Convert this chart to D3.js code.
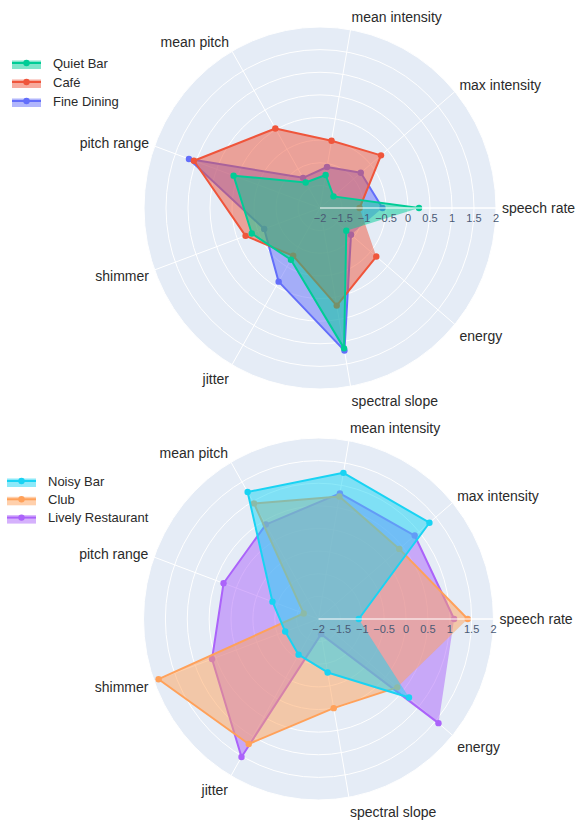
<!DOCTYPE html>
<html>
<head>
<meta charset="utf-8">
<script src="https://cdn.jsdelivr.net/npm/d3@7"></script>
<style>
  body { margin: 0; background: #fff; }
  svg { display: block; font-family: "Liberation Sans", Arial, sans-serif; }
</style>
</head>
<body>
<svg width="577" height="820"></svg>
<script>
// categories go counter-clockwise starting from the right
const categories = ["speech rate", "max intensity", "mean intensity", "mean pitch",
  "pitch range", "shimmer", "jitter", "spectral slope", "energy"];
const radialTicks = [-2, -1.5, -1, -0.5, 0, 0.5, 1, 1.5, 2];

// top chart
const quietBar   = [0.25, -1.6, -1.26, -1.35, 0.09, -0.35, -0.68, 1.15, -1.22];
const cafe       = [-1.1, -0.19, -0.49, 0.03, 1.05, -0.2, -0.78, 0.19, -0.33];
const fineDining = [-0.58, -0.79, -1.08, -1.23, 1.17, -0.65, -0.12, 1.2, -1.08];

// bottom chart
const noisyBar         = [-1.08, 1.31, 1.28, 1.24, -0.88, -1.19, -1.09, -0.8, 0.7];
const club             = [1.41, 0.41, 0.75, 0.95, -1.64, 1.89, 1.19, 0.0, 0.35];
const livelyRestaurant = [1.1, 0.87, 0.82, 0.41, 0.31, 0.59, 1.52, -1.66, 1.58];

const svg = d3.select("svg");

const angle = d3.scalePoint()
    .domain(categories)
    .range([0, 360 - 360 / categories.length]);
const radius = d3.scaleLinear().domain([-2, 2]).range([0, 1]);

function drawRadar(cx, cy, rx, ry, series, lx, ly, lstep) {
  const g = svg.append("g");
  const pt = (c, v) => {
    const a = angle(c) * Math.PI / 180;
    return [cx + Math.cos(a) * radius(v) * rx, cy - Math.sin(a) * radius(v) * ry];
  };

  // background + grid
  g.append("ellipse")
      .attr("cx", cx).attr("cy", cy).attr("rx", rx).attr("ry", ry)
      .attr("fill", "#E5ECF6");
  g.selectAll(".ring")
      .data(radialTicks.filter(t => t > -2))
      .join("ellipse")
      .attr("cx", cx).attr("cy", cy)
      .attr("rx", d => radius(d) * rx).attr("ry", d => radius(d) * ry)
      .attr("fill", "none").attr("stroke", "#fff").attr("stroke-width", 1);
  g.selectAll(".spoke")
      .data(categories)
      .join("line")
      .attr("x1", cx).attr("y1", cy)
      .attr("x2", d => pt(d, 2)[0]).attr("y2", d => pt(d, 2)[1])
      .attr("stroke", "#fff").attr("stroke-width", 1);

  // angular labels
  const fs = 14;
  g.selectAll(".alabel")
      .data(categories)
      .join("text")
      .attr("font-size", fs)
      .attr("fill", "#2a2a2a")
      .attr("x", d => cx + Math.cos(angle(d) * Math.PI / 180) * (rx + 6))
      .attr("y", d => {
        const a = angle(d) * Math.PI / 180, s = Math.sin(a);
        const ff = s > 0 ? 0.2 : 1;
        return cy - s * (ry + 5.5 + fs * ff) + Math.abs(Math.cos(a)) * fs * 0.35;
      })
      .attr("text-anchor", d => {
        const c = Math.cos(angle(d) * Math.PI / 180);
        return Math.abs(c) < 0.1 ? "middle" : (c > 0 ? "start" : "end");
      })
      .text(d => d);

  // traces, last legend entry drawn first
  const line = d3.line();
  series.slice().reverse().forEach(s => {
    const pts = categories.map((c, i) => pt(c, s.values[i]));
    g.append("path")
        .attr("d", line(pts) + "Z")
        .attr("fill", s.color).attr("fill-opacity", 0.5)
        .attr("stroke", "none");
    g.append("path")
        .attr("d", line(pts))
        .attr("fill", "none").attr("stroke", s.color).attr("stroke-width", 2)
        .attr("stroke-linejoin", "round");
    g.selectAll(null)
        .data(pts)
        .join("circle")
        .attr("cx", d => d[0]).attr("cy", d => d[1]).attr("r", 3.2)
        .attr("fill", s.color);
  });

  // radial axis drawn above traces
  g.append("line")
      .attr("x1", cx).attr("y1", cy).attr("x2", cx + rx).attr("y2", cy)
      .attr("stroke", "#fff").attr("stroke-width", 1.2);
  g.selectAll(".rtick")
      .data(radialTicks)
      .join("text")
      .attr("x", d => cx + radius(d) * rx)
      .attr("y", cy + 14)
      .attr("text-anchor", "middle")
      .attr("font-size", 11)
      .attr("fill", "#4a5a75")
      .text(d => d3.format("")(d).replace("-", "\u2212"));

  // legend
  const leg = g.selectAll(".leg")
      .data(series)
      .join("g")
      .attr("transform", (d, i) => `translate(${lx},${ly + i * lstep})`);
  leg.append("rect")
      .attr("x", 0).attr("y", -2.5).attr("width", 29).attr("height", 8.5)
      .attr("fill", d => d.color).attr("fill-opacity", 0.5);
  leg.append("line")
      .attr("x1", 0).attr("x2", 29).attr("y1", 0).attr("y2", 0)
      .attr("stroke", d => d.color).attr("stroke-width", 2);
  leg.append("circle")
      .attr("cx", 14.5).attr("cy", 0).attr("r", 3.2)
      .attr("fill", d => d.color);
  leg.append("text")
      .attr("x", 41).attr("y", 4.5)
      .attr("font-size", 13)
      .attr("fill", "#2a2a2a")
      .text(d => d.name);
}

drawRadar(320, 208, 176, 181, [
  { name: "Quiet Bar", color: "#00cc96", values: quietBar },
  { name: "Café", color: "#EF553B", values: cafe },
  { name: "Fine Dining", color: "#636efa", values: fineDining }
], 12, 63, 19);

drawRadar(318.5, 619, 175, 181, [
  { name: "Noisy Bar", color: "#19d3f3", values: noisyBar },
  { name: "Club", color: "#FFA15A", values: club },
  { name: "Lively Restaurant", color: "#ab63fa", values: livelyRestaurant }
], 7, 481, 18.3);
</script>
</body>
</html>
